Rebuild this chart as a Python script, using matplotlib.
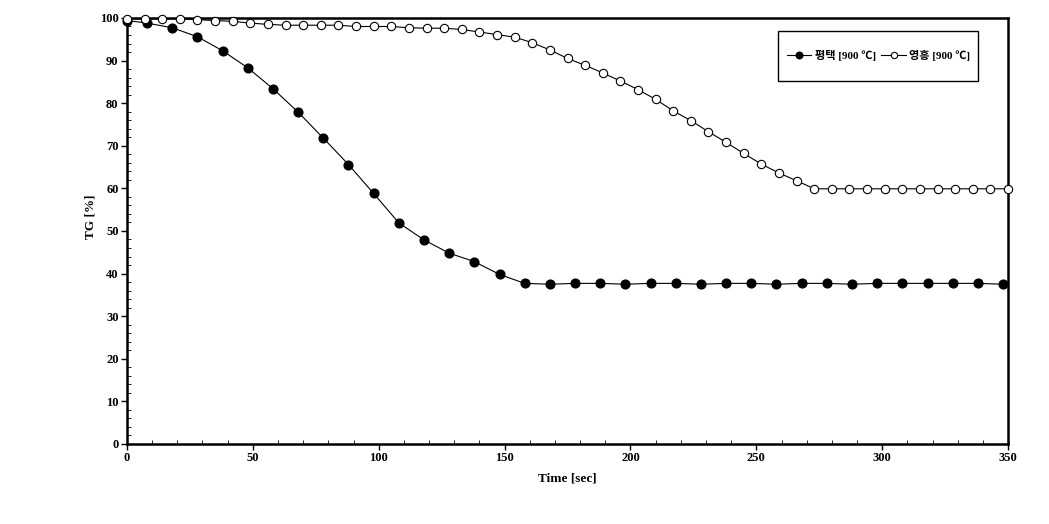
import matplotlib
matplotlib.use("Agg")
import matplotlib.pyplot as plt
from matplotlib.patches import Rectangle

# 평택 [900 ℃] - filled markers
time_a = [0, 8, 18, 28, 38, 48, 58, 68, 78, 88, 98, 108, 118, 128, 138, 148,
          158, 168, 178, 188, 198, 208, 218, 228, 238, 248, 258, 268, 278, 288,
          298, 308, 318, 328, 338, 348]
tg_a = [99.4, 98.8, 97.7, 95.6, 92.3, 88.3, 83.4, 77.9, 71.8, 65.6, 58.8, 51.9,
        47.9, 44.8, 42.8, 39.8, 37.7, 37.5, 37.7, 37.7, 37.5, 37.7, 37.7, 37.5,
        37.7, 37.7, 37.5, 37.7, 37.7, 37.5, 37.7, 37.7, 37.7, 37.7, 37.7, 37.5]

# 영흥 [900 ℃] - open markers
time_b = [0, 7, 14, 21, 28, 35, 42, 49, 56, 63, 70, 77, 84, 91, 98, 105, 112,
          119, 126, 133, 140, 147, 154, 161, 168, 175, 182, 189, 196, 203, 210,
          217, 224, 231, 238, 245, 252, 259, 266, 273, 280, 287, 294, 301, 308,
          315, 322, 329, 336, 343, 350]
tg_b = [99.8, 99.8, 99.8, 99.8, 99.6, 99.4, 99.2, 98.8, 98.5, 98.3, 98.3, 98.3,
        98.3, 98.0, 98.0, 98.0, 97.7, 97.6, 97.6, 97.3, 96.7, 96.1, 95.5, 94.2,
        92.5, 90.5, 88.9, 87.1, 85.2, 83.2, 80.9, 78.2, 75.9, 73.3, 70.8, 68.2,
        65.7, 63.6, 61.8, 59.9, 59.9, 59.9, 59.9, 59.9, 59.9, 59.9, 59.9, 59.9,
        59.9, 59.9, 59.9]

labels = ["평택 [900 ℃]", "영흥 [900 ℃]"]

SERIF = ["Liberation Serif", "Noto Sans CJK KR", "DejaVu Sans"]
plt.rcParams["font.family"] = SERIF
plt.rcParams["font.weight"] = "bold"

fig = plt.figure(figsize=(10.49, 5.24), dpi=100)
ax = fig.add_axes([0.121, 0.1527, 0.840, 0.8130])

ax.plot(time_a, tg_a, color="black", linewidth=0.8, marker="o",
        markersize=6.3, markerfacecolor="black", markeredgecolor="black",
        label=labels[0], clip_on=False, zorder=3)
ax.plot(time_b, tg_b, color="black", linewidth=0.8, marker="o",
        markersize=6.0, markerfacecolor="white", markeredgecolor="black",
        markeredgewidth=0.8, label=labels[1], clip_on=False, zorder=3)

ax.set_xlim(0, 350)
ax.set_ylim(0, 100)
ax.set_xticks(range(0, 351, 50))
ax.set_xticks(range(0, 351, 10), minor=True)
ax.set_yticks(range(0, 101, 10))
ax.set_yticks(range(0, 101, 2), minor=True)
ax.tick_params(which="major", direction="out", length=4, width=1,
               labelsize=9, pad=2)
ax.tick_params(which="minor", direction="in", length=3, width=0.6)
for lab in ax.get_xticklabels() + ax.get_yticklabels():
    lab.set_fontweight("bold")

for spine in ax.spines.values():
    spine.set_linewidth(1.8)

ax.set_xlabel("Time [sec]", fontsize=9.5, fontweight="bold")
ax.xaxis.set_label_coords(0.5, -0.067)
ax.set_ylabel("TG [%]", fontsize=9.5, fontweight="bold")
ax.yaxis.set_label_coords(-0.035, 0.533)

# legend frame drawn as a box, entries laid out inside it
ax.add_patch(Rectangle((0.739, 0.853), 0.227, 0.117, transform=ax.transAxes,
                       facecolor="white", edgecolor="black", linewidth=1.0,
                       zorder=4))
leg = ax.legend(loc="center", bbox_to_anchor=(0.853, 0.9115), ncol=2,
                frameon=False, fontsize=8, handlelength=2.2,
                handletextpad=0.3, columnspacing=0.5, markerscale=0.75,
                borderpad=0.2)
leg.set_zorder(5)
for t in leg.get_texts():
    t.set_fontweight("bold")

fig.savefig("out.png", dpi=100)
